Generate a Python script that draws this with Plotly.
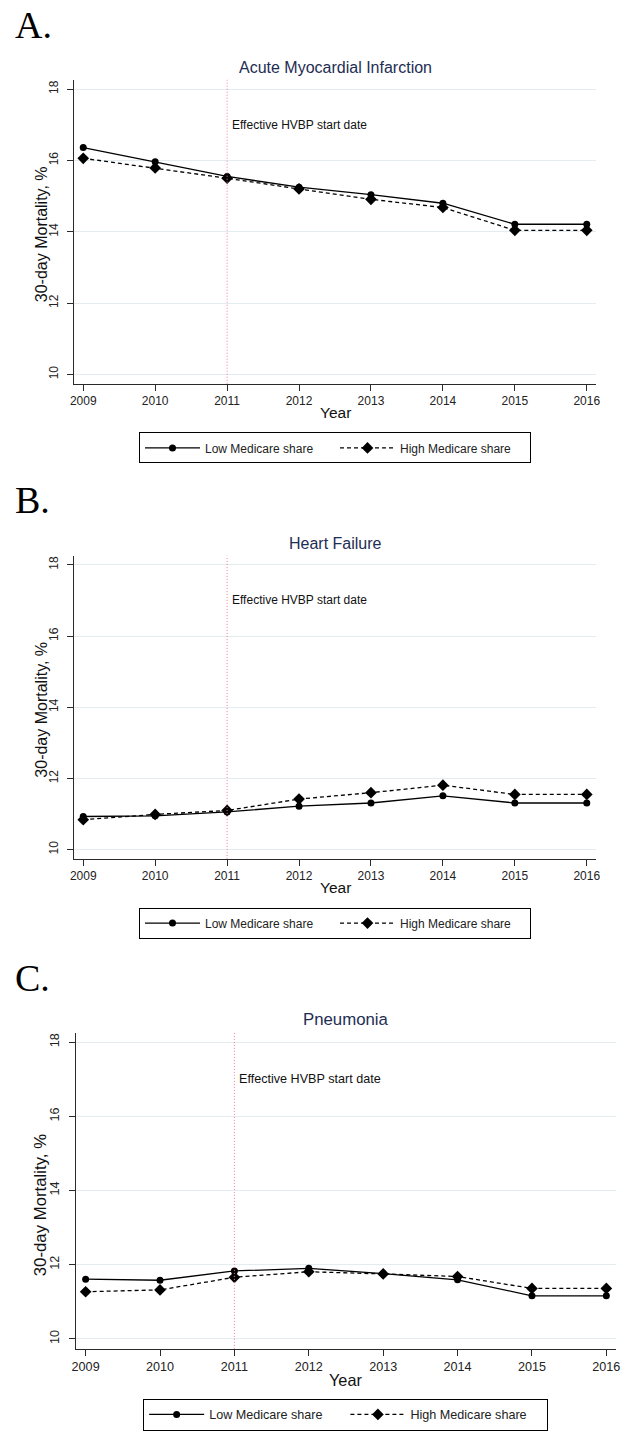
import plotly.graph_objects as go

# ---------------- data ----------------
years = [2009, 2010, 2011, 2012, 2013, 2014, 2015, 2016]
y_ticks = [10, 12, 14, 16, 18]
policy_year = 2011
policy_label = "Effective HVBP start date"
policy_label_y = 17

ami_low = [16.36, 15.96, 15.55, 15.25, 15.04, 14.80, 14.21, 14.21]
ami_high = [16.06, 15.79, 15.50, 15.20, 14.91, 14.68, 14.04, 14.04]
hf_low = [10.93, 10.95, 11.06, 11.22, 11.31, 11.51, 11.31, 11.31]
hf_high = [10.84, 10.99, 11.10, 11.42, 11.60, 11.81, 11.55, 11.55]
pn_low = [11.61, 11.58, 11.83, 11.90, 11.76, 11.59, 11.16, 11.16]
pn_high = [11.27, 11.32, 11.66, 11.81, 11.75, 11.68, 11.36, 11.36]

panel_letters = ["A.", "B.", "C."]
panel_titles = ["Acute Myocardial Infarction", "Heart Failure", "Pneumonia"]
series_names = ["Low Medicare share", "High Medicare share"]
low_series = [ami_low, hf_low, pn_low]
high_series = [ami_high, hf_high, pn_high]

# ---------------- layout geometry (pixels) ----------------
W, H = 630, 1431
SANS = "Liberation Sans, Arial, sans-serif"
SERIF = "Liberation Serif, Times New Roman, serif"
TITLE_COLOR = "#1e2d53"
AXIS_COLOR = "#2a2a2a"
GRID_COLOR = "#e3ecef"
VLINE_COLOR = "#f27a9b"

panels = [
    dict(x0=70.9, x1=600.7, top=80.0, bot=384.5, xr=[2008.87, 2016.13], yr=[9.74, 18.26],
         s=1.0, letter_y=25, title_y=68, ytitle_x=38, ytitle_dy=2, xtitle_y=413, legend_top=433.3),
    dict(x0=70.9, x1=600.7, top=556.7, bot=860.7, xr=[2008.87, 2016.13], yr=[9.74, 18.26],
         s=1.0, letter_y=501, title_y=544.3, ytitle_x=38, ytitle_dy=2, xtitle_y=889.5, legend_top=909.5),
    dict(x0=72.7, x1=620.5, top=1035.0, bot=1351.7, xr=[2008.866, 2016.125], yr=[9.73, 18.25],
         s=1.05, letter_y=980, title_y=1021.7, ytitle_x=37, ytitle_dy=14, xtitle_y=1383.3, legend_top=1401.7),
]


def px(v):
    return v / W


def py(v):
    return 1 - v / H


fig = go.Figure()
layout = dict(
    width=W, height=H,
    margin=dict(l=0, r=0, t=0, b=0),
    paper_bgcolor="white", plot_bgcolor="white",
    showlegend=True,
    font=dict(family=SANS, color="#222222"),
)
annotations = []
shapes = []

for i, p in enumerate(panels):
    n = i + 1
    xa = "x" if n == 1 else f"x{n}"
    ya = "y" if n == 1 else f"y{n}"
    lg = "legend" if n == 1 else f"legend{n}"
    s = p["s"]

    fig.add_trace(go.Scatter(
        x=years, y=low_series[i], name=series_names[0], xaxis=xa, yaxis=ya, legend=lg,
        mode="lines+markers",
        line=dict(color="black", width=1.3),
        marker=dict(symbol="circle", size=7, color="black"),
    ))
    fig.add_trace(go.Scatter(
        x=years, y=high_series[i], name=series_names[1], xaxis=xa, yaxis=ya, legend=lg,
        mode="lines+markers",
        line=dict(color="black", width=1.3, dash="4px,3px"),
        marker=dict(symbol="diamond", size=9, color="black"),
    ))

    xkey = "xaxis" if n == 1 else f"xaxis{n}"
    ykey = "yaxis" if n == 1 else f"yaxis{n}"
    layout[xkey] = dict(
        domain=[px(p["x0"]), px(p["x1"])], anchor=ya, range=p["xr"],
        tickmode="array", tickvals=years, ticktext=[str(y) for y in years],
        ticks="outside", ticklen=6, tickwidth=1, tickcolor=AXIS_COLOR,
        showline=True, linecolor=AXIS_COLOR, linewidth=1.3,
        showgrid=False, zeroline=False,
        tickfont=dict(size=12 * s, family=SANS, color="#222222"),
    )
    layout[ykey] = dict(
        domain=[py(p["bot"]), py(p["top"])], anchor=xa, range=p["yr"],
        tickmode="array", tickvals=y_ticks, ticktext=[str(v) for v in y_ticks],
        ticks="outside", ticklen=6, tickwidth=1, tickcolor=AXIS_COLOR,
        showline=True, linecolor=AXIS_COLOR, linewidth=1.3,
        showgrid=True, gridcolor=GRID_COLOR, gridwidth=1, zeroline=False,
        tickangle=-90, ticklabelstandoff=4,
        tickfont=dict(size=12 * s, family=SANS, color="#222222"),
    )
    layout[lg] = dict(
        orientation="h", x=px((p["x0"] + p["x1"]) / 2), xanchor="center",
        y=py(p["legend_top"]), yanchor="top",
        bordercolor="black", borderwidth=1, bgcolor="white",
        font=dict(size=12 * s, family=SANS, color="#222222"),
        itemwidth=55, entrywidth=125 * s, entrywidthmode="pixels",
        traceorder="normal",
    )

    # policy line + label
    shapes.append(dict(type="line", xref=xa, yref=f"{ya} domain", x0=policy_year, x1=policy_year,
                       y0=0, y1=1, line=dict(color=VLINE_COLOR, width=1, dash="1px,2px")))
    annotations.append(dict(x=policy_year, y=policy_label_y, xref=xa, yref=ya, text=policy_label,
                            showarrow=False, xanchor="left", yanchor="middle", xshift=3,
                            font=dict(size=12 * s, family=SANS, color="#111111")))
    # panel letter
    annotations.append(dict(x=px(9), y=py(p["letter_y"]), xref="paper", yref="paper",
                            text=panel_letters[i], showarrow=False, xanchor="left", yanchor="middle",
                            font=dict(size=38, family=SERIF, color="black")))
    # panel title
    annotations.append(dict(x=px((p["x0"] + p["x1"]) / 2), y=py(p["title_y"]), xref="paper", yref="paper",
                            text=panel_titles[i], showarrow=False, xanchor="center", yanchor="middle",
                            font=dict(size=16 * s, family=SANS, color=TITLE_COLOR)))
    # y axis title
    annotations.append(dict(x=px(p["ytitle_x"]), y=py((p["top"] + p["bot"]) / 2 + p["ytitle_dy"]),
                            xref="paper", yref="paper",
                            text="30-day Mortality, %", textangle=-90, showarrow=False,
                            xanchor="center", yanchor="middle",
                            font=dict(size=16 * s, family=SANS, color="#111111")))
    # x axis title
    annotations.append(dict(x=px((p["x0"] + p["x1"]) / 2), y=py(p["xtitle_y"]), xref="paper", yref="paper",
                            text="Year", showarrow=False, xanchor="center", yanchor="middle",
                            font=dict(size=15.5 * s, family=SANS, color="#111111")))

layout["annotations"] = annotations
layout["shapes"] = shapes
fig.update_layout(**layout)
fig.write_html("out.html",
               config={"displayModeBar": False},
               post_script="document.body.style.margin='0';document.body.style.overflow='hidden';")
